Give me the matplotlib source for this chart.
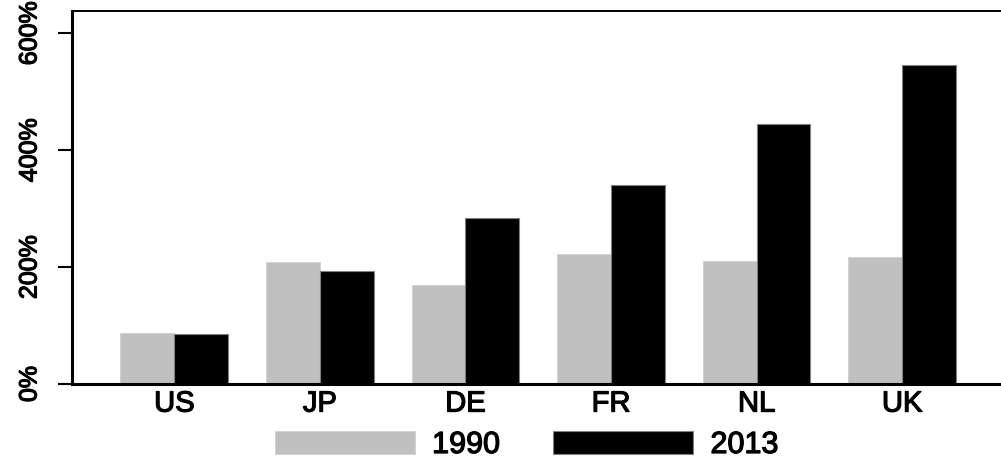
import matplotlib
matplotlib.use("Agg")
import matplotlib.pyplot as plt
import matplotlib.patheffects as pe
import numpy as np

countries = ["US", "JP", "DE", "FR", "NL", "UK"]
series_labels = ["1990", "2013"]
values_1990 = [88, 208, 170, 223, 210, 217]
values_2013 = [85, 194, 284, 340, 444, 546]
ytick_values = [0, 200, 400, 600]
ytick_labels = ["0%", "200%", "400%", "600%"]

plt.rcParams['font.family'] = ['Liberation Sans', 'DejaVu Sans']
thick = [pe.withStroke(linewidth=0.9, foreground="black")]

fig = plt.figure(figsize=(10.01, 4.61), dpi=100)
W, H = 1001, 461
left_px, right_px, top_px, bottom_px = 72, 1004, 11, 384
ax = fig.add_axes([left_px / W, 1 - bottom_px / H, (right_px - left_px) / W, (bottom_px - top_px) / H])

x = np.arange(len(countries))
bw = 0.37
ax.bar(x - bw / 2, values_1990, width=bw, color="#c0c0c0", edgecolor="#d0d0d0", linewidth=0.6, label=series_labels[0])
ax.bar(x + bw / 2, values_2013, width=bw, color="#000000", edgecolor="#808080", linewidth=0.8, label=series_labels[1])

ax.set_xlim(-0.703, 5.70)
ax.set_ylim(0, 638)

ax.set_yticks(ytick_values)
ax.set_yticklabels(ytick_labels, rotation=90, va="center", fontsize=18)
ax.set_xticks(x)
ax.set_xticklabels(countries, fontsize=21)
for t in ax.get_xticklabels() + ax.get_yticklabels():
    t.set_path_effects(thick)

ax.tick_params(axis="y", length=10, width=1.5, pad=12, direction="out")
ax.tick_params(axis="x", length=0, pad=4)

ax.spines["left"].set_linewidth(2.2)
ax.spines["bottom"].set_linewidth(2.2)
ax.spines["top"].set_linewidth(1.4)
ax.spines["right"].set_visible(False)

leg = fig.legend(loc="center left", bbox_to_anchor=(275 / W, 1 - 445 / H), ncol=2, frameon=False,
                 fontsize=22, handlelength=4.58, handleheight=0.75, handletextpad=0.56,
                 columnspacing=1.75, borderpad=0, borderaxespad=0)
for t in leg.get_texts():
    t.set_path_effects(thick)

fig.savefig("out.png", dpi=100)
